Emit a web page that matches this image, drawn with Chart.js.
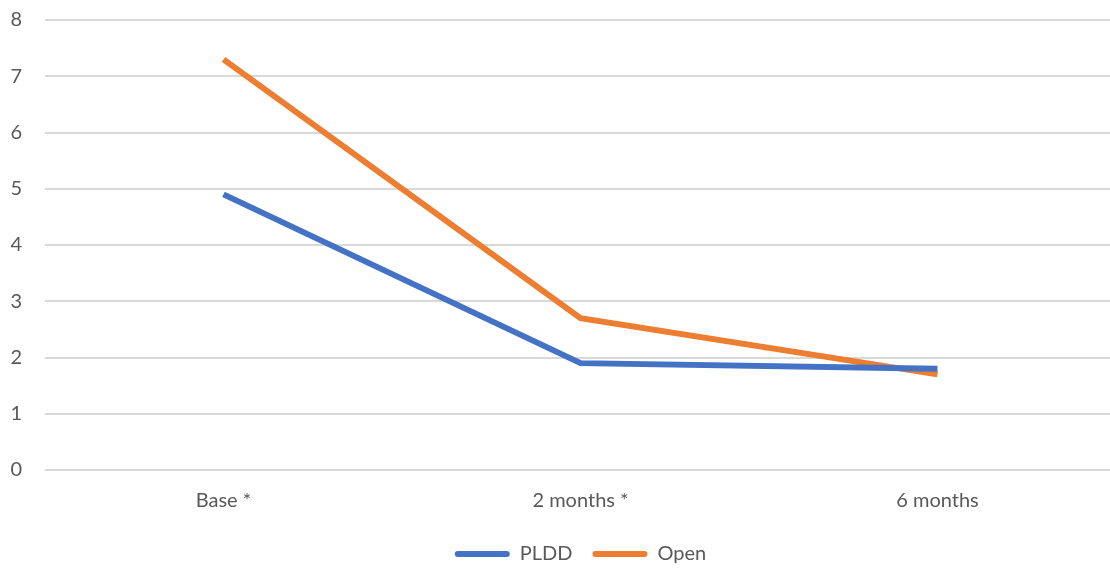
<!DOCTYPE html>
<html lang="en">
<head>
    <meta charset="UTF-8">
    <title>PLDD vs Open</title>
    <style>
        body {
            margin: 0;
            padding: 0;
            background: #ffffff;
            overflow: hidden;
        }

        /* canvas is a bit larger than the window so the plot reaches the edges */
        .container {
            width: 1116px;
            height: 583px;
            margin-top: -15px;
        }
    </style>
    <script src="https://cdn.jsdelivr.net/npm/chart.js"></script>
</head>
<body>
    <div class="container">
        <canvas id="lineChart"></canvas>
    </div>

    <script>
        // Data
        const categories = ['Base *', '2 months *', '6 months'];
        const pldd = [4.9, 1.9, 1.8];
        const open = [7.3, 2.7, 1.7];
        const yTicks = [0, 1, 2, 3, 4, 5, 6, 7, 8];

        const textColor = '#595959';
        const fontFamily = 'Lato, "Open Sans", sans-serif';

        const config = {
            type: 'line',
            data: {
                labels: categories,
                datasets: [
                    {
                        label: 'PLDD',
                        data: pldd,
                        borderColor: '#4472C4',
                        backgroundColor: '#4472C4',
                        borderWidth: 6,
                        pointRadius: 0,
                        tension: 0
                    },
                    {
                        label: 'Open',
                        data: open,
                        borderColor: '#ED7D31',
                        backgroundColor: '#ED7D31',
                        borderWidth: 6,
                        pointRadius: 0,
                        tension: 0
                    }
                ]
            },
            options: {
                responsive: true,
                maintainAspectRatio: false,
                animation: false,
                layout: {
                    padding: { top: 0, right: 0, bottom: -6, left: 0 }
                },
                plugins: {
                    legend: {
                        position: 'bottom',
                        fullSize: false,
                        labels: {
                            color: textColor,
                            font: { family: fontFamily, size: 20 },
                            boxWidth: 55,
                            boxHeight: 6,
                            useBorderRadius: true,
                            borderRadius: 3,
                            padding: 20,
                            generateLabels: (chart) => {
                                const items = Chart.defaults.plugins.legend.labels.generateLabels(chart);
                                items.forEach(it => { it.lineWidth = 0; });
                                return items;
                            }
                        }
                    },
                    tooltip: { enabled: false }
                },
                scales: {
                    x: {
                        offset: true,
                        grid: { display: false },
                        border: { display: false },
                        ticks: {
                            color: textColor,
                            font: { family: fontFamily, size: 20 },
                            padding: 11
                        }
                    },
                    y: {
                        min: 0,
                        max: 8,
                        afterBuildTicks: (axis) => {
                            axis.ticks = yTicks.map(v => ({ value: v }));
                        },
                        afterFit: (axis) => {
                            axis.width = 45;
                        },
                        grid: {
                            color: '#d9d9d9',
                            lineWidth: 2,
                            drawTicks: false
                        },
                        border: { display: false },
                        ticks: {
                            color: textColor,
                            font: { family: fontFamily, size: 20 },
                            padding: 23
                        }
                    }
                }
            }
        };

        new Chart(document.getElementById('lineChart'), config);
    </script>
</body>
</html>
